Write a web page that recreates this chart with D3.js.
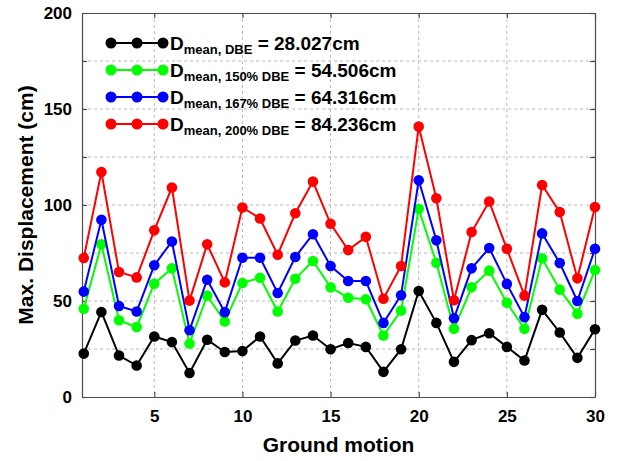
<!DOCTYPE html>
<html>
<head>
<meta charset="utf-8">
<script src="https://cdn.jsdelivr.net/npm/d3@7"></script>
<style>
    body { margin: 0; background: white; }
    text { font-family: "Liberation Sans", Arial, sans-serif; font-weight: bold; }
</style>
</head>
<body>
<div id="canvas"></div>
<script>
"use strict"
let svgWidth = 618;
let svgHeight = 461;

let marginLeft = 82;
let marginRight = 23;
let marginTop = 13;
let marginBottom = 64;

// ground motion number (x) and max displacement of each case (cm)
let groundMotion = [1, 2, 3, 4, 5, 6, 7, 8, 9, 10, 11, 12, 13, 14, 15,
    16, 17, 18, 19, 20, 21, 22, 23, 24, 25, 26, 27, 28, 29, 30];

let dispDBE = [22.6, 44.3, 21.6, 16.4, 31.5, 28.6, 12.5, 29.8, 23.4, 23.9,
    31.5, 17.5, 29.4, 32.0, 24.9, 28.1, 26.1, 13.1, 24.9, 55.2,
    38.6, 18.3, 29.6, 33.2, 26.1, 19.0, 45.4, 33.6, 20.4, 35.3];
let disp150 = [45.9, 79.5, 40.0, 36.4, 59.0, 67.0, 27.8, 52.8, 39.3, 59.4,
    62.1, 44.5, 61.6, 70.8, 57.1, 51.7, 50.9, 32.0, 45.0, 98.0,
    69.9, 35.5, 57.1, 65.8, 49.1, 35.5, 72.2, 55.9, 43.4, 66.1];
let disp167 = [54.9, 92.3, 47.4, 44.5, 68.6, 81.0, 34.8, 61.1, 44.2, 72.5,
    72.5, 54.2, 72.9, 84.8, 68.2, 60.4, 60.4, 38.6, 53.0, 112.9,
    81.6, 41.0, 67.0, 77.6, 58.9, 41.6, 85.2, 69.8, 50.0, 77.2];
let disp200 = [72.4, 117.2, 65.1, 62.3, 86.8, 109.1, 50.2, 79.5, 59.7, 98.7,
    93.0, 74.1, 95.7, 112.2, 90.2, 76.5, 83.4, 51.2, 68.2, 140.9,
    103.5, 50.4, 85.9, 101.8, 77.2, 52.8, 110.4, 96.3, 61.8, 98.9];

let seriesColors = ["#000000", "#00ff00", "#0000ff", "#ff0000"];
let seriesSubs = ["mean, DBE", "mean, 150% DBE", "mean, 167% DBE", "mean, 200% DBE"];
let seriesMeans = ["28.027cm", "54.506cm", "64.316cm", "84.236cm"];

let xTicks = [5, 10, 15, 20, 25, 30];
let yTicks = [0, 25, 50, 75, 100, 125, 150, 175, 200];

let svg = d3.select("#canvas")
    .append("svg")
    .attr("width", svgWidth)
    .attr("height", svgHeight);

let allSeries = [dispDBE, disp150, disp167, disp200];

let xScale = d3.scaleLinear()
    .domain([0.9, 30])
    .range([marginLeft, svgWidth - marginRight]);
let yScale = d3.scaleLinear()
    .domain([0, 200])
    .range([svgHeight - marginBottom, marginTop]);

let plotLeft = marginLeft;
let plotRight = svgWidth - marginRight;
let plotTop = marginTop;
let plotBottom = svgHeight - marginBottom;

// dashed grid
svg.append("g")
    .selectAll("line")
    .data(yTicks.slice(1, -1))
    .join("line")
    .attr("x1", plotLeft)
    .attr("x2", plotRight)
    .attr("y1", d => yScale(d))
    .attr("y2", d => yScale(d))
    .attr("stroke", "#b8b8b8")
    .attr("stroke-dasharray", "3,3");

svg.append("g")
    .selectAll("line")
    .data(xTicks.slice(0, -1))
    .join("line")
    .attr("x1", d => xScale(d))
    .attr("x2", d => xScale(d))
    .attr("y1", plotTop)
    .attr("y2", plotBottom)
    .attr("stroke", "#b8b8b8")
    .attr("stroke-dasharray", "3,3");

// axes with inward ticks on all four sides
let yLabel = function (d) { return d % 50 == 0 ? d : ""; };

let leftAxis = svg.append("g")
    .attr("transform", "translate(" + plotLeft + ",0)")
    .call(d3.axisLeft(yScale).tickValues(yTicks).tickFormat(yLabel)
        .tickSizeInner(-5).tickSizeOuter(0).tickPadding(10));
let rightAxis = svg.append("g")
    .attr("transform", "translate(" + plotRight + ",0)")
    .call(d3.axisRight(yScale).tickValues(yTicks).tickFormat("")
        .tickSizeInner(-5).tickSizeOuter(0));
let bottomAxis = svg.append("g")
    .attr("transform", "translate(0," + plotBottom + ")")
    .call(d3.axisBottom(xScale).tickValues(xTicks)
        .tickSizeInner(-5).tickSizeOuter(0).tickPadding(13));
let topAxis = svg.append("g")
    .attr("transform", "translate(0," + plotTop + ")")
    .call(d3.axisTop(xScale).tickValues(xTicks).tickFormat("")
        .tickSizeInner(-5).tickSizeOuter(0));

[leftAxis, rightAxis, bottomAxis, topAxis].forEach(function (ax) {
    ax.selectAll("path, line").attr("stroke", "#4d4d4d").attr("stroke-width", 1.2);
    ax.selectAll("text")
        .attr("fill", "black")
        .style("font-size", "17px")
        .style("font-family", "'Liberation Sans', Arial, sans-serif")
        .style("font-weight", "bold");
});

// series lines and markers
let line = d3.line()
    .x((d, i) => xScale(groundMotion[i]))
    .y(d => yScale(d));

allSeries.forEach(function (values, k) {
    svg.append("path")
        .datum(values)
        .attr("d", line)
        .attr("fill", "none")
        .attr("stroke", seriesColors[k])
        .attr("stroke-width", 2);

    svg.append("g")
        .selectAll("circle")
        .data(values)
        .join("circle")
        .attr("cx", (d, i) => xScale(groundMotion[i]))
        .attr("cy", d => yScale(d))
        .attr("r", 5.3)
        .attr("fill", seriesColors[k]);
});

// legend
let keyX = 111;
let keyY = 43;
for (let i = 0; i < seriesColors.length; i++) {
    let yPosition = keyY + i * 27;
    svg.append("line")
        .attr("x1", keyX)
        .attr("x2", keyX + 52)
        .attr("y1", yPosition)
        .attr("y2", yPosition)
        .attr("stroke", seriesColors[i])
        .attr("stroke-width", 2);
    [0, 26, 52].forEach(function (dx) {
        svg.append("circle")
            .attr("cx", keyX + dx)
            .attr("cy", yPosition)
            .attr("r", 5.5)
            .attr("fill", seriesColors[i]);
    });
    let label = svg.append("text")
        .attr("x", keyX + 59)
        .attr("y", yPosition + 7)
        .style("font-size", "19px");
    label.append("tspan").text("D");
    label.append("tspan")
        .attr("dy", 4)
        .style("font-size", "13px")
        .text(seriesSubs[i]);
    label.append("tspan")
        .attr("dy", -4)
        .text(" = " + seriesMeans[i]);
}

// axis titles
svg.append("text")
    .attr("x", (plotLeft + plotRight) / 2)
    .attr("y", svgHeight - 9)
    .attr("text-anchor", "middle")
    .style("font-size", "21px")
    .text("Ground motion");

svg.append("text")
    .attr("transform", "rotate(-90)")
    .attr("x", -(plotTop + plotBottom) / 2)
    .attr("y", 33)
    .attr("text-anchor", "middle")
    .style("font-size", "21px")
    .text("Max. Displacement (cm)");
</script>
</body>
</html>
